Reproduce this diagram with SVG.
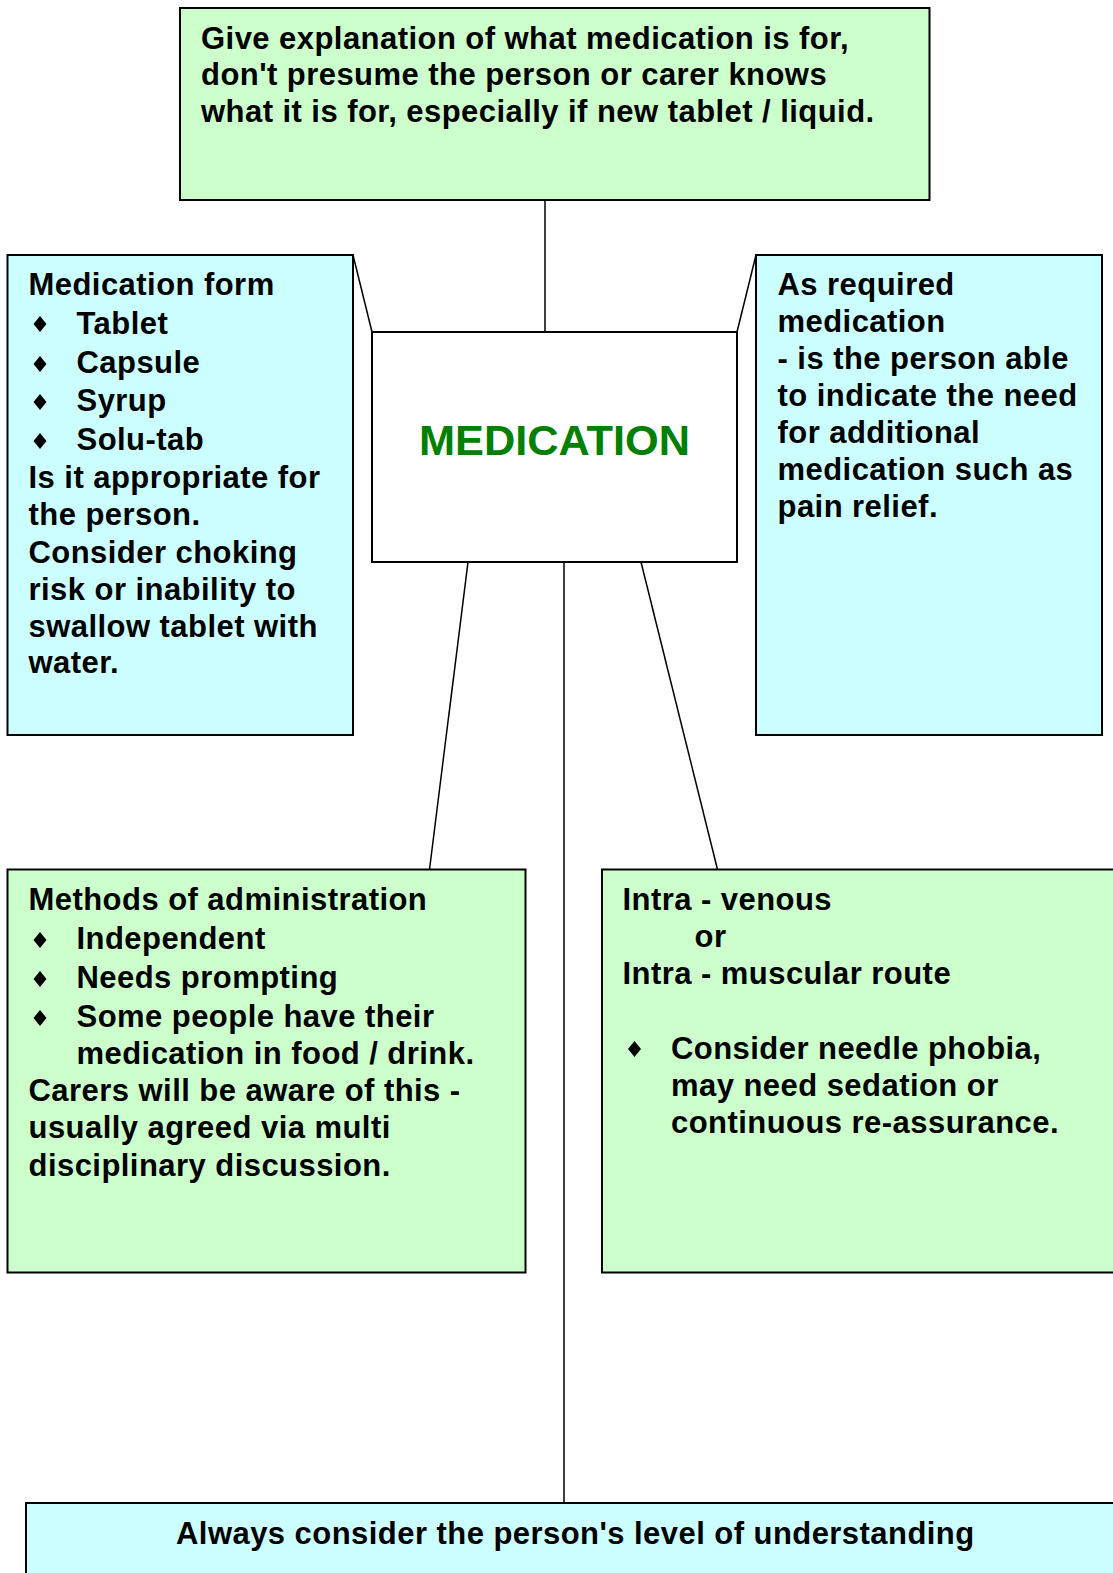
<svg xmlns="http://www.w3.org/2000/svg" xmlns:xlink="http://www.w3.org/1999/xlink" width="1113" height="1573" viewBox="0 0 1113 1573">
<style>
.box{stroke:#000;stroke-width:2}
.g{fill:#CCFFCC}
.c{fill:#CCFFFF}
.w{fill:#FFFFFF}
.t{font-family:"Liberation Sans",Arial,"Helvetica",sans-serif;font-weight:bold;font-size:31px;letter-spacing:0.45px;fill:#000}
.title{font-family:"Liberation Sans",Arial,"Helvetica",sans-serif;font-weight:bold;font-size:43.3px;fill:#008000}
.con{stroke:#000;stroke-width:1.5;fill:none}
</style>
<defs>
<polygon id="bullet" points="0,-8 6.5,0 0,8 -6.5,0" fill="#000"/>
</defs>
<rect x="0" y="0" width="1113" height="1573" fill="#FFFFFF"/>
<g id="connectors">
<line class="con" x1="545" y1="200" x2="545" y2="332"/>
<line class="con" x1="353" y1="255" x2="372" y2="332"/>
<line class="con" x1="737" y1="332" x2="756" y2="255"/>
<line class="con" x1="468" y1="562" x2="429.5" y2="869.5"/>
<line class="con" x1="564" y1="562" x2="564" y2="1503"/>
<line class="con" x1="641" y1="562" x2="717.5" y2="869.5"/>
</g>
<g id="node-top">
<rect class="box g" x="180" y="8" width="749.5" height="192"/>
<text class="t" x="201" y="48.5">Give explanation of what medication is for,</text>
<text class="t" x="201" y="85">don't presume the person or carer knows</text>
<text class="t" x="201" y="121.5">what it is for, especially if new tablet / liquid.</text>
</g>
<g id="node-form">
<rect class="box c" x="7.5" y="255" width="345.5" height="480"/>
<text class="t" x="28.5" y="295">Medication form</text>
<use xlink:href="#bullet" x="40" y="324"/>
<text class="t" x="76.5" y="333.5">Tablet</text>
<use xlink:href="#bullet" x="40" y="364"/>
<text class="t" x="76.5" y="373">Capsule</text>
<use xlink:href="#bullet" x="40" y="402"/>
<text class="t" x="76.5" y="411">Syrup</text>
<use xlink:href="#bullet" x="40" y="441"/>
<text class="t" x="76.5" y="450">Solu-tab</text>
<text class="t" x="28.5" y="488">Is it appropriate for</text>
<text class="t" x="28.5" y="525">the person.</text>
<text class="t" x="28.5" y="562.5">Consider choking</text>
<text class="t" x="28.5" y="599.5">risk or inability to</text>
<text class="t" x="28.5" y="636.5">swallow tablet with</text>
<text class="t" x="28.5" y="673">water.</text>
</g>
<g id="node-medication">
<rect class="box w" x="372" y="332" width="365" height="230"/>
<text class="title" x="554.5" y="455" text-anchor="middle">MEDICATION</text>
</g>
<g id="node-asrequired">
<rect class="box c" x="756" y="255" width="346" height="480"/>
<text class="t" x="777.5" y="295">As required</text>
<text class="t" x="777.5" y="332">medication</text>
<text class="t" x="777.5" y="369">- is the person able</text>
<text class="t" x="777.5" y="406">to indicate the need</text>
<text class="t" x="777.5" y="443">for additional</text>
<text class="t" x="777.5" y="479.5">medication such as</text>
<text class="t" x="777.5" y="516.5">pain relief.</text>
</g>
<g id="node-methods">
<rect class="box g" x="7.5" y="869.5" width="518" height="403"/>
<text class="t" x="28.5" y="910">Methods of administration</text>
<use xlink:href="#bullet" x="40" y="940"/>
<text class="t" x="76.5" y="949">Independent</text>
<use xlink:href="#bullet" x="40" y="979"/>
<text class="t" x="76.5" y="988">Needs prompting</text>
<use xlink:href="#bullet" x="40" y="1018"/>
<text class="t" x="76.5" y="1027">Some people have their</text>
<text class="t" x="76.5" y="1064">medication in food / drink.</text>
<text class="t" x="28.5" y="1101">Carers will be aware of this -</text>
<text class="t" x="28.5" y="1138">usually agreed via multi</text>
<text class="t" x="28.5" y="1175.5">disciplinary discussion.</text>
</g>
<g id="node-intra">
<rect class="box g" x="602" y="869.5" width="530" height="403"/>
<text class="t" x="622.5" y="910">Intra - venous</text>
<text class="t" x="694.5" y="946.5">or</text>
<text class="t" x="622.5" y="984">Intra - muscular route</text>
<use xlink:href="#bullet" x="634.5" y="1049"/>
<text class="t" x="671" y="1058.5">Consider needle phobia,</text>
<text class="t" x="671" y="1095.5">may need sedation or</text>
<text class="t" x="671" y="1133">continuous re-assurance.</text>
</g>
<g id="node-understanding">
<rect class="box c" x="26" y="1503" width="1110" height="100"/>
<text class="t" x="176" y="1544">Always consider the person's level of understanding</text>
</g>
</svg>
